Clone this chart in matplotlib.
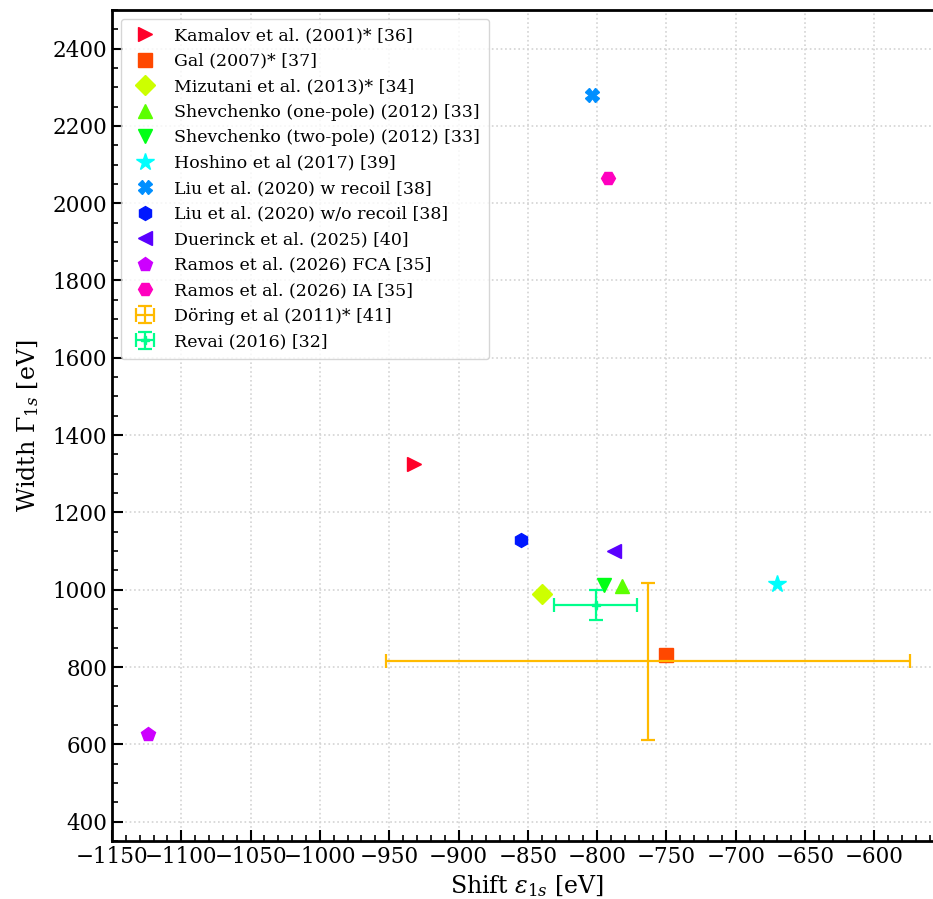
import numpy as np
import matplotlib
matplotlib.use("Agg")
from matplotlib import pyplot as plt
from matplotlib.ticker import MultipleLocator

plt.rcParams['font.family'] = 'DejaVu Serif'
plt.rcParams['mathtext.fontset'] = 'dejavuserif'

# point estimates: shift (eV), width (eV)
labels = ["Kamalov et al. (2001)* [36]", "Gal (2007)* [37]", "Mizutani et al. (2013)* [34]",
          "Shevchenko (one-pole) (2012) [33]", "Shevchenko (two-pole) (2012) [33]",
          "Hoshino et al (2017) [39]", "Liu et al. (2020) w recoil [38]",
          "Liu et al. (2020) w/o recoil [38]", "Duerinck et al. (2025) [40]",
          "Ramos et al. (2026) FCA [35]", "Ramos et al. (2026) IA [35]"]
shift = [-932, -750, -840, -782, -795, -670, -804, -855, -788, -1124, -792]
width = [1325, 832, 990, 1010, 1012, 1016, 2281, 1128, 1100, 627, 2064]
markers = ['>', 's', 'D', '^', 'v', '*', 'X', 'h', '<', 'p', 'H']
color_idx = [0, 1, 3, 4, 5, 7, 8, 9, 10, 11, 12]

# points with error bars
err_labels = ["Döring et al (2011)* [41]", "Revai (2016) [32]"]
err_shift = [-763, -801]
err_width = [815, 961]
err_xerr = [189, 30]
err_yerr = [203, 39]
err_color_idx = [2, 6]

colors = plt.cm.gist_rainbow(np.linspace(0, 1, 13))

fig = plt.figure(figsize=(9.33, 8.99), dpi=100)
ax = fig.add_axes([0.12, 0.0645, 0.890, 0.9245])

for x, y, m, c, lab in zip(shift, width, markers, color_idx, labels):
    ms = 13 if m == '*' else 10
    ax.plot(x, y, linestyle='none', marker=m, markersize=ms, color=colors[c], label=lab)

ax.errorbar(err_shift[0], err_width[0], xerr=err_xerr[0], yerr=err_yerr[0], fmt='none',
            ecolor=colors[err_color_idx[0]], elinewidth=1.6, capsize=5, capthick=1.6,
            label=err_labels[0])
ax.errorbar(err_shift[1], err_width[1], xerr=err_xerr[1], yerr=err_yerr[1], fmt='P',
            markersize=6, color=colors[err_color_idx[1]], elinewidth=1.6, capsize=5,
            capthick=1.6, label=err_labels[1])

ax.set_xlim(-1150, -551)
ax.set_ylim(350, 2500)
ax.xaxis.set_major_locator(MultipleLocator(50))
ax.xaxis.set_minor_locator(MultipleLocator(10))
ax.yaxis.set_major_locator(MultipleLocator(200))
ax.yaxis.set_minor_locator(MultipleLocator(50))
ax.tick_params(which='both', direction='in', labelsize=15.5)
ax.tick_params(which='major', length=8, width=1.5)
ax.tick_params(which='minor', length=4, width=1.2)
for s in ax.spines.values():
    s.set_linewidth(2)
ax.spines['right'].set_visible(False)

ax.grid(True, linestyle=':', color='lightgray', linewidth=1.2)
ax.set_xlabel(r'Shift $\varepsilon_{1s}$ [eV]', fontsize=17)
ax.set_ylabel(r'Width $\Gamma_{1s}$ [eV]', fontsize=17, labelpad=8)

ax.legend(loc='upper left', fontsize=12.5, borderpad=0.5, labelspacing=0.49,
          handlelength=1.8)

fig.savefig("out.png", dpi=100)
